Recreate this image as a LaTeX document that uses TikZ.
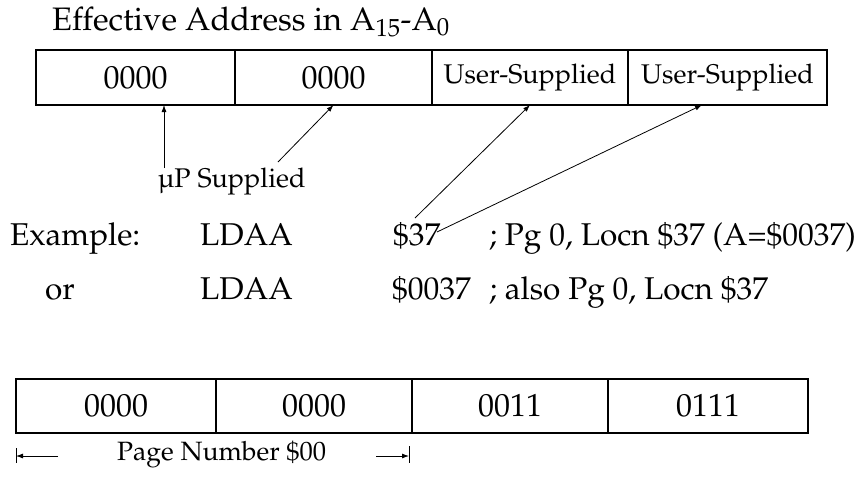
\documentclass[tikz,border=0pt]{standalone}
\usepackage[T1]{fontenc}
\usepackage{mathpazo}
\usepackage{textcomp}
\usetikzlibrary{arrows.meta}
\newcommand\fsz[1]{\fontsize{#1}{#1}\selectfont}
\begin{document}
\begin{tikzpicture}[x=1pt,y=-1pt,
  cell/.style={draw, line width=1.1pt, inner sep=0pt, outer sep=0pt, font=\fsz{32}},
  topcell/.style={cell, minimum height=55pt},
  botcell/.style={cell, minimum height=54pt},
  txt/.style={anchor=base west, inner sep=0pt, font=\fsz{31.5}},
  small/.style={anchor=base west, inner sep=0pt, font=\fsz{27}},
  arr/.style={-{Latex[length=7pt,width=5pt]}, line width=0.8pt},
  tick/.style={line width=1pt}]
\useasboundingbox (0,0) rectangle (863,480);

% heading
\node[txt, font=\fsz{32.5}] (title) at (52,30) {Effective Address in A$_{15}$-A$_{0}$};

% address register, top
\node[topcell, minimum width=199pt] (c1) at (135.5,77.5) {0000};
\node[topcell, minimum width=197pt] (c2) at (333.5,77.5) {0000};
\node[topcell, minimum width=196pt, font=\fsz{27}] (c3) at (530,77.5) {User-Supplied};
\node[topcell, minimum width=199pt, font=\fsz{27}] (c4) at (727.5,77.5) {User-Supplied};

% processor-supplied label
\node[small] (mu) at (158,187) {\textmu P Supplied};
\coordinate (t1) at (164,168);
\coordinate (t2) at (278,162);
\draw[arr] (t1) -- (t1 |- c1.south);
\draw[arr] (t2) -- (c2.south);

% example lines
\node[txt] (ex)   at (10,245)  {Example:};
\node[txt] (op1)  at (200,245) {LDAA};
\node[txt] (d37)  at (393,245) {\$37};
\node[txt] (cm1)  at (489,245) {; Pg 0, Locn \$37 (A=\$0037)};
\node[txt] (or)   at (45,299)  {or};
\node[txt] (op2)  at (200,299) {LDAA};
\node[txt] (d0037) at (392,299) {\$0037};
\node[txt] (cm2)  at (489,299) {; also Pg 0, Locn \$37};

\coordinate (t3) at (415,218);
\coordinate (t4) at (437,232);
\draw[arr] (t3) -- (c3.south);
\draw[arr] (t4) -- ([xshift=-25.5pt]c4.south);

% address register, bottom
\node[botcell, minimum width=200pt] (b1) at (116,406) {0000};
\node[botcell, minimum width=196pt] (b2) at (314,406) {0000};
\node[botcell, minimum width=196pt] (b3) at (510,406) {0011};
\node[botcell, minimum width=200pt] (b4) at (708,406) {0111};

% page number span
\node[small, font=\fsz{26.5}] (pg) at (117,460) {Page Number \$00};
\coordinate (pL) at (16,456);
\coordinate (pR) at (409,456);
\draw[tick] (16,448) -- (16,463);
\draw[tick] (409,446) -- (409,463);
\draw[arr] (58,456) -- (pL);
\draw[arr] (376,456) -- (pR);
\end{tikzpicture}
\end{document}
